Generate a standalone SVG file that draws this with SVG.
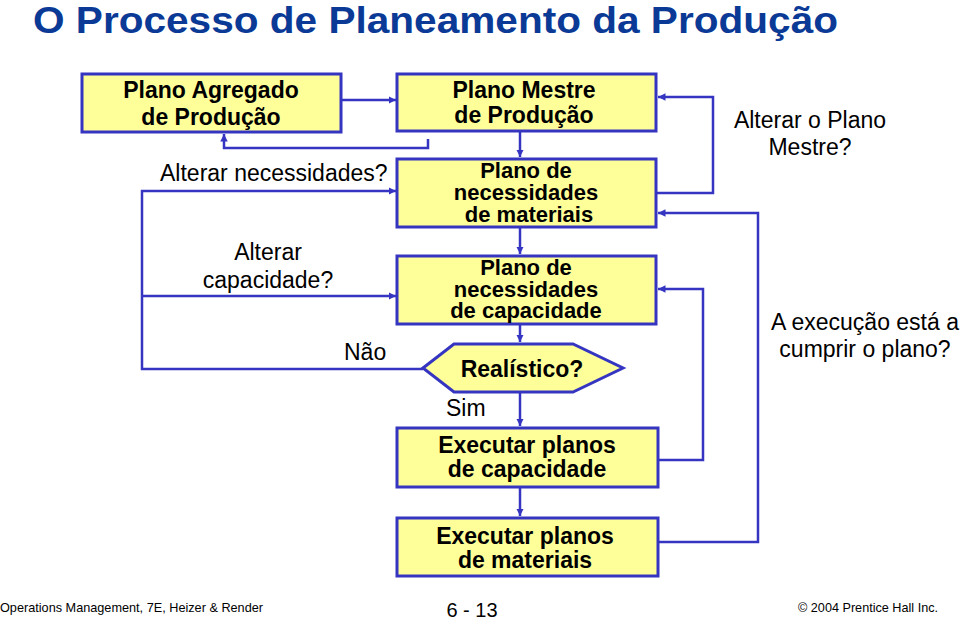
<svg xmlns="http://www.w3.org/2000/svg" width="960" height="620" viewBox="0 0 960 620">
<defs>
<style>
.box{fill:#FFFF99;stroke:#3535C2;stroke-width:3}
.ln{fill:none;stroke:#3535C2;stroke-width:2.5}
.bt{font-family:"Liberation Sans",Arial,sans-serif;font-size:23px;font-weight:bold;fill:#000;text-anchor:middle}
.bt3{font-size:22px}
.lb{font-family:"Liberation Sans",Arial,sans-serif;font-size:23px;fill:#000}
.ft{font-family:"Liberation Sans",Arial,sans-serif;fill:#000}
</style>
<marker id="ah" viewBox="0 0 10 10" refX="10" refY="5" markerWidth="3" markerHeight="3" orient="auto" markerUnits="strokeWidth">
<path d="M0,0 L10,5 L0,10 z" fill="#3535C2"/>
</marker>
</defs>
<rect width="960" height="620" fill="#fff"/>
<text x="33" y="33" font-family="'Liberation Sans',Arial,sans-serif" font-size="36" font-weight="bold" fill="#0B3A96" textLength="805" lengthAdjust="spacingAndGlyphs">O Processo de Planeamento da Produção</text>

<g id="connectors">
<line class="ln" x1="341" y1="100" x2="396" y2="100" marker-end="url(#ah)"/>
<polyline class="ln" points="428,139 428,148 224,148 224,134" marker-end="url(#ah)"/>
<line class="ln" x1="520" y1="131" x2="520" y2="157" marker-end="url(#ah)"/>
<line class="ln" x1="520" y1="227" x2="520" y2="254" marker-end="url(#ah)"/>
<line class="ln" x1="520" y1="324" x2="520" y2="342" marker-end="url(#ah)"/>
<line class="ln" x1="520" y1="392" x2="520" y2="426" marker-end="url(#ah)"/>
<line class="ln" x1="520" y1="487" x2="520" y2="516" marker-end="url(#ah)"/>
<polyline class="ln" points="423,369 142,369 142,191 396,191" marker-end="url(#ah)"/>
<line class="ln" x1="142" y1="296" x2="396" y2="296" marker-end="url(#ah)"/>
<polyline class="ln" points="656,193 713,193 713,97 658,97" marker-end="url(#ah)"/>
<polyline class="ln" points="658,542 758,542 758,213 658,213" marker-end="url(#ah)"/>
<polyline class="ln" points="658,460 703,460 703,289 658,289" marker-end="url(#ah)"/>
</g>

<g id="n-agregado">
<rect class="box" x="82" y="74" width="259" height="58"/>
<text class="bt" x="211" y="98">Plano Agregado</text>
<text class="bt" x="211" y="125">de Produção</text>
</g>
<g id="n-mestre">
<rect class="box" x="397" y="74" width="259" height="57"/>
<text class="bt" x="524" y="98">Plano Mestre</text>
<text class="bt" x="524" y="123">de Produção</text>
</g>
<g id="n-materiais">
<rect class="box" x="397" y="159" width="259" height="68"/>
<text class="bt bt3" x="526" y="178">Plano de</text>
<text class="bt bt3" x="526" y="200">necessidades</text>
<text class="bt bt3" x="529" y="222">de materiais</text>
</g>
<g id="n-capacidade">
<rect class="box" x="397" y="256" width="259" height="68"/>
<text class="bt bt3" x="526" y="275">Plano de</text>
<text class="bt bt3" x="526" y="297">necessidades</text>
<text class="bt bt3" x="526" y="318">de capacidade</text>
</g>
<g id="n-realistico">
<polygon class="box" points="423,368 454,344 573,344 623,368 573,392 454,392"/>
<text class="bt" x="522" y="377">Realístico?</text>
</g>
<g id="n-exec-cap">
<rect class="box" x="397" y="428" width="261" height="59"/>
<text class="bt" x="527" y="453">Executar planos</text>
<text class="bt" x="527" y="477">de capacidade</text>
</g>
<g id="n-exec-mat">
<rect class="box" x="397" y="518" width="261" height="58"/>
<text class="bt" x="525" y="544">Executar planos</text>
<text class="bt" x="525" y="568">de materiais</text>
</g>

<g id="labels">
<text class="lb" x="160" y="181">Alterar necessidades?</text>
<text class="lb" x="268" y="260" text-anchor="middle">Alterar</text>
<text class="lb" x="268" y="288" text-anchor="middle">capacidade?</text>
<text class="lb" x="344" y="360">Não</text>
<text class="lb" x="446" y="416">Sim</text>
<text class="lb" x="810" y="128" text-anchor="middle">Alterar o Plano</text>
<text class="lb" x="810" y="155" text-anchor="middle">Mestre?</text>
<text class="lb" x="865" y="330" text-anchor="middle">A execução está a</text>
<text class="lb" x="865" y="357" text-anchor="middle">cumprir o plano?</text>
</g>

<g id="footer">
<text class="ft" x="0" y="612" font-size="13" textLength="263" lengthAdjust="spacingAndGlyphs">Operations Management, 7E, Heizer &amp; Render</text>
<text class="ft" x="472" y="617" font-size="20" text-anchor="middle">6 - 13</text>
<text class="ft" x="938" y="612" font-size="13" text-anchor="end" textLength="140" lengthAdjust="spacingAndGlyphs">© 2004 Prentice Hall Inc.</text>
</g>
</svg>
